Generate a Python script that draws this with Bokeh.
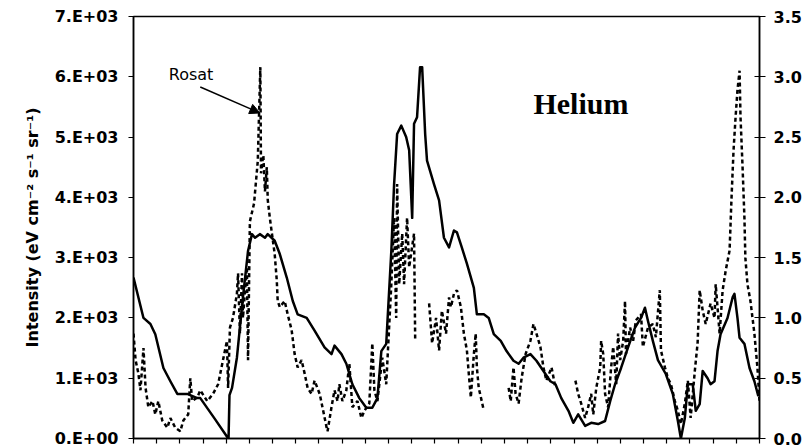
import numpy as np
from bokeh.plotting import figure
from bokeh.models import (Range1d, LinearAxis, FixedTicker, NumeralTickFormatter,
                          Arrow, NormalHead, Label)
from bokeh.embed import file_html
from bokeh.resources import INLINE

nan = np.nan

# Position along the scan (unlabelled axis, 27 divisions)
x_ticks = list(range(0, 28))

# Left axis: intensity (eV cm^-2 s^-1 sr^-1)
left_ticks = [0, 1000, 2000, 3000, 4000, 5000, 6000, 7000]
left_tick_labels = ["0.E+00", "1.E+03", "2.E+03", "3.E+03",
                    "4.E+03", "5.E+03", "6.E+03", "7.E+03"]

# Right axis: Rosat count rate
right_ticks = [0.0, 0.5, 1.0, 1.5, 2.0, 2.5, 3.0, 3.5]

# Helium model intensity (solid line, left axis)
model_x = [0.00, 0.43, 0.73, 0.94, 1.29, 1.59, 1.89, 2.32, 2.75, 2.88,
           3.50, 4.05, 4.10, 4.14, 4.25, 4.46, 4.72, 4.94, 5.11, 5.24,
           5.45, 5.67, 5.79, 6.09, 6.31, 6.61, 6.87, 7.08, 7.47, 7.81,
           8.24, 8.54, 8.67, 8.97, 9.18, 9.44, 9.74, 10.04, 10.30, 10.52,
           10.69, 10.90, 11.12, 11.24, 11.37, 11.55, 11.76, 11.89, 12.02, 12.10,
           12.23, 12.36, 12.45, 12.58, 12.66, 12.96, 13.18, 13.39, 13.61, 13.82,
           13.95, 14.16, 14.38, 14.68, 14.81, 15.11, 15.32, 15.54, 15.84, 16.09,
           16.39, 16.61, 16.82, 17.12, 17.38, 17.68, 17.98, 18.20, 18.45, 18.76,
           18.97, 19.18, 19.48, 19.74, 20.04, 20.34, 20.56, 20.77, 21.03, 21.33,
           21.63, 21.89, 22.06, 22.19, 22.40, 22.62, 22.96, 23.26, 23.48, 23.61,
           23.78, 23.91, 24.12, 24.25, 24.42, 24.55, 24.76, 24.89, 25.06, 25.19,
           25.32, 25.62, 25.84, 25.92, 26.05, 26.14, 26.35, 26.57, 26.78, 26.95]
model_intensity = [2670, 2000, 1900, 1730, 1170, 950, 740, 740, 670, 670,
                   330, 20, 0, 720, 840, 1340, 2340, 3110, 3390, 3330,
                   3390, 3330, 3390, 3280, 3060, 2670, 2280, 2060, 2000, 1790,
                   1510, 1400, 1540, 1400, 1240, 900, 670, 510, 510, 670,
                   1450, 1570, 3110, 4220, 5050, 5190, 5000, 4780, 3660, 5220,
                   5330, 6160, 6160, 5050, 4610, 4220, 3950, 3330, 3170, 3450,
                   3420, 3170, 2900, 2500, 2060, 2060, 2000, 1730, 1620, 1450,
                   1290, 1240, 1340, 1400, 1290, 1120, 950, 900, 670, 460,
                   260, 400, 210, 260, 240, 290, 620, 900, 1170, 1510,
                   1840, 2000, 2170, 1950, 1620, 1300, 1070, 740, 290, 0,
                   340, 900, 900, 460, 570, 1120, 1000, 900, 950, 1450,
                   1730, 2000, 2340, 2400, 2000, 1670, 1570, 1170, 950, 700]

# Rosat measurement (dashed line, right axis); NaN marks breaks in the trace
rosat_x = [0.00, 0.09, 0.21, 0.30, 0.43, 0.52, 0.64, 0.82, 0.94, 1.07,
           1.24, 1.46, 1.59, 1.80, 2.02, 2.15, 2.36, 2.45, 2.53, 2.75,
           2.88, 3.18, 3.43, 3.65, 3.86, 4.03, 4.08, 4.16, 4.29, 4.46,
           4.51, 4.59, 4.68, 4.72, 4.89, 4.94, 5.02, 5.20, 5.36, 5.47,
           5.50, 5.60, 5.67, 5.75, 5.79, 5.88, 5.97, 6.09, 6.18, 6.22,
           6.31, 6.52, 6.65, 6.82, 6.95, 7.08, 7.25, 7.38, 7.51, 7.68,
           7.81, 8.03, 8.15, 8.33, 8.37, 8.54, 8.67, 8.80, 8.88, 9.01,
           9.18, 9.31, 9.44, 9.66, 9.83, 9.96, 10.17, 10.30, 10.39, 10.52,
           10.73, 10.90, 11.12, 11.24, 11.33, 11.37, 11.46, 11.59, 11.67, 11.80,
           11.89, 12.10, 12.15, nan, 12.75, 12.88, 13.05, 13.18, 13.30, 13.48,
           13.61, 13.69, 13.82, 13.95, 14.12, 14.25, 14.38, 14.46, 14.55, 14.68,
           14.76, 14.81, 14.89, 15.02, 15.11, nan, 16.18, 16.27, 16.39, 16.48,
           16.61, 16.74, 16.91, 17.12, 17.25, 17.38, 17.55, 17.68, 17.81, 18.03,
           18.20, nan, 19.06, 19.18, 19.31, 19.48, 19.61, 19.74, 19.83, 19.96,
           20.13, 20.17, 20.26, 20.34, 20.47, 20.60, 20.69, 20.82, 20.90, 20.99,
           21.12, 21.20, 21.24, 21.42, 21.55, 21.67, 21.89, 21.97, 22.19, 22.40,
           22.53, 22.70, 22.75, 22.92, 23.05, 23.18, 23.35, 23.48, 23.61, 23.78,
           23.91, 24.03, 24.21, 24.33, 24.42, 24.55, 24.68, 24.89, 25.06, 25.11,
           25.28, 25.41, 25.54, 25.71, 25.79, 25.88, 25.97, 26.05, 26.14, 26.18,
           26.27, 26.35, 26.39, 26.48, 26.61, 26.78, 26.91, 27.00]
rosat_rate = [0.87, 0.65, 0.54, 0.40, 0.75, 0.42, 0.26, 0.31, 0.20, 0.31,
              0.15, 0.09, 0.17, 0.09, 0.06, 0.15, 0.20, 0.50, 0.31, 0.34,
              0.40, 0.31, 0.37, 0.45, 0.65, 0.81, 0.42, 0.92, 1.00, 1.20,
              1.37, 0.87, 1.37, 1.00, 1.42, 0.65, 1.80, 1.95, 2.30, 3.08,
              2.20, 2.35, 2.05, 2.25, 1.98, 1.83, 1.70, 1.53, 1.31, 1.14,
              1.09, 1.14, 1.03, 0.90, 0.70, 0.59, 0.65, 0.54, 0.42, 0.37,
              0.48, 0.37, 0.26, 0.09, 0.06, 0.26, 0.40, 0.31, 0.45, 0.31,
              0.40, 0.62, 0.26, 0.31, 0.17, 0.23, 0.29, 0.79, 0.40, 0.31,
              0.67, 0.45, 1.28, 1.83, 1.00, 2.11, 1.28, 1.70, 1.28, 1.83,
              1.42, 1.70, 0.81, nan, 1.12, 0.79, 1.00, 0.73, 1.06, 0.87,
              1.17, 1.09, 1.20, 1.23, 1.09, 0.87, 0.73, 0.54, 0.34, 0.70,
              0.87, 0.59, 0.42, 0.31, 0.23, nan, 0.42, 0.31, 0.59, 0.37,
              0.29, 0.50, 0.70, 0.81, 0.95, 0.87, 0.76, 0.59, 0.48, 0.59,
              0.42, nan, 0.48, 0.37, 0.29, 0.17, 0.26, 0.37, 0.20, 0.42,
              0.59, 0.81, 0.70, 0.37, 0.26, 0.59, 0.76, 0.45, 0.87, 0.65,
              0.81, 1.14, 0.70, 0.92, 0.81, 0.98, 1.03, 0.76, 0.92, 0.95,
              0.84, 1.23, 0.73, 0.59, 0.50, 0.45, 0.31, 0.23, 0.12, 0.29,
              0.48, 0.17, 0.56, 0.79, 1.23, 1.06, 0.95, 1.12, 1.00, 1.28,
              0.87, 1.23, 1.39, 1.56, 1.98, 2.39, 2.67, 2.89, 3.05, 2.67,
              2.25, 1.83, 1.50, 1.28, 1.14, 0.87, 0.59, 0.31]

SANS = "DejaVu Sans"

p = figure(width=804, height=447, output_backend="svg", toolbar_location=None,
           x_range=Range1d(0, 27), y_range=Range1d(0, 7000),
           min_border_left=133, min_border_right=42,
           min_border_top=16, min_border_bottom=9)
p.background_fill_color = "white"
p.border_fill_color = "white"
p.outline_line_color = "black"
p.outline_line_width = 1.5
p.xgrid.visible = False
p.ygrid.visible = False

# bottom axis: tick marks only, no labels drawn
xa = p.xaxis[0]
xa.ticker = FixedTicker(ticks=x_ticks)
xa.major_label_text_color = None
xa.major_label_text_font_size = "1px"
xa.major_label_standoff = 0
xa.major_tick_in = 0
xa.major_tick_out = 5
xa.minor_tick_line_color = None
xa.axis_line_width = 1.5
xa.major_tick_line_width = 1.2

# left axis: intensity
ya = p.yaxis[0]
ya.ticker = FixedTicker(ticks=left_ticks)
ya.major_label_overrides = dict(zip(left_ticks, left_tick_labels))
ya.major_label_text_font = SANS
ya.major_label_text_font_style = "bold"
ya.major_label_text_font_size = "16px"
ya.major_label_text_color = "black"
ya.major_label_standoff = 10
ya.major_tick_in = 0
ya.major_tick_out = 5
ya.minor_tick_line_color = None
ya.axis_line_width = 1.5
ya.major_tick_line_width = 1.2
ya.axis_label = "Intensity (eV cm\u207b\u00b2 s\u207b\u00b9 sr\u207b\u00b9)"
ya.axis_label_text_font = SANS
ya.axis_label_text_font_style = "bold"
ya.axis_label_text_font_size = "16px"
ya.axis_label_text_color = "black"
ya.axis_label_standoff = 10

# right axis: Rosat rate
p.extra_y_ranges = {"rosat": Range1d(0, 3.5)}
ra = LinearAxis(y_range_name="rosat", ticker=FixedTicker(ticks=right_ticks),
                formatter=NumeralTickFormatter(format="0.0"))
ra.major_label_text_font = SANS
ra.major_label_text_font_style = "bold"
ra.major_label_text_font_size = "16px"
ra.major_label_text_color = "black"
ra.major_label_standoff = 8
ra.major_tick_in = 5
ra.major_tick_out = 6
ra.minor_tick_line_color = None
ra.axis_line_width = 1.5
ra.major_tick_line_width = 1.2
p.add_layout(ra, "right")

p.line(rosat_x, rosat_rate, y_range_name="rosat", line_color="black",
       line_width=2.5, line_dash="4 3")
p.line(model_x, model_intensity, line_color="black", line_width=2.5,
       line_join="round")

# annotations
p.add_layout(Label(x=1.52, y=6030, text="Rosat", text_font=SANS,
                   text_font_size="16px", text_color="black",
                   text_baseline="alphabetic"))
p.add_layout(Arrow(x_start=2.88, y_start=5830, x_end=5.45, y_end=5400,
                   line_color="black", line_width=1.5,
                   end=NormalHead(size=10, fill_color="black",
                                  line_color="black")))
p.add_layout(Label(x=17.25, y=5550, text="Helium", text_font="Liberation Serif",
                   text_font_style="bold", text_font_size="30px",
                   text_color="black", text_baseline="alphabetic"))

open("out.html", "w").write(file_html(p, INLINE))
